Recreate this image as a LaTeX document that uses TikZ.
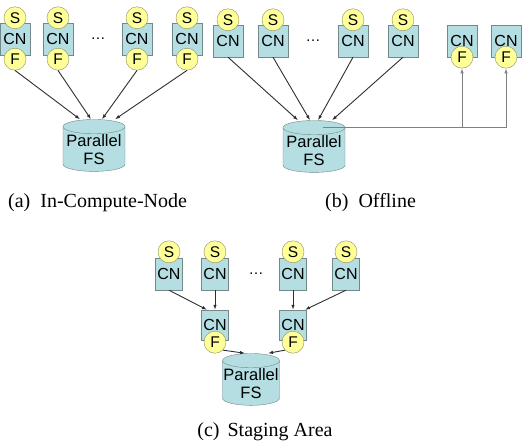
\documentclass[tikz,border=0pt]{standalone}
\usepackage{fontspec}
\setmainfont{Liberation Serif}
\setsansfont{Liberation Sans}
\usepackage{tikz}
\usetikzlibrary{shapes.geometric,arrows.meta}

\definecolor{cnfill}{HTML}{B4DEE2}
\definecolor{cnline}{HTML}{74888A}
\definecolor{bubfill}{HTML}{FFFF99}
\definecolor{bubline}{HTML}{8E8E5C}
\definecolor{linkc}{HTML}{2E2E2E}

\tikzset{
    cn/.style={draw=cnline, fill=cnfill, minimum width=30pt, minimum height=32pt, inner sep=0pt,
        font=\sffamily\fontsize{16}{16}\selectfont},
    bub/.style={draw=bubline, fill=bubfill, circle, minimum size=22pt, inner sep=0pt,
        font=\sffamily\fontsize{15.5}{15.5}\selectfont},
    pfs/.style={cylinder, shape border rotate=90, aspect=0.25, draw=cnline, fill=cnfill,
        minimum width=62pt, minimum height=50pt, inner sep=1pt, align=center,
        font=\sffamily\fontsize{16.5}{18}\selectfont},
    dots/.style={font=\sffamily\fontsize{15}{15}\selectfont},
    link/.style={draw=linkc, line width=0.9pt, -{Latex[length=5pt,width=3.5pt]}},
    subcap/.style={anchor=west, inner sep=0pt, font=\fontsize{20}{24}\selectfont}
}

\begin{document}
\begin{tikzpicture}[x=1pt, y=-1pt]
        \useasboundingbox (0,0) rectangle (524,447);

        % (a)
        \node[cn] (a1) at (15,39) {CN};
        \node[cn] (a2) at (58,39) {CN};
        \node[cn] (a3) at (137,39) {CN};
        \node[cn] (a4) at (187,39) {CN};
        \node[dots] (da) at (98,39) {\ldots};
        \node[bub] (sa1) at ([yshift=5pt]a1.north) {S};
        \node[bub] (sa2) at ([yshift=5pt]a2.north) {S};
        \node[bub] (sa3) at ([yshift=5pt]a3.north) {S};
        \node[bub] (sa4) at ([yshift=5pt]a4.north) {S};
        \node[bub] (fa1) at ([yshift=-4pt]a1.south) {F};
        \node[bub] (fa2) at ([yshift=-4pt]a2.south) {F};
        \node[bub] (fa3) at ([yshift=-4pt]a3.south) {F};
        \node[bub] (fa4) at ([yshift=-4pt]a4.south) {F};
        \node[pfs] (fsa) at (94,150) {Parallel\\FS};

        \draw[link] (fa1.south) -- ([xshift=-14pt]fsa.north);
        \draw[link] (fa2.south) -- ([xshift=-3pt]fsa.north);
        \draw[link] (fa3.south) -- ([xshift=8pt]fsa.north);
        \draw[link] (fa4.south) -- ([xshift=21pt]fsa.north);

        % (b)
        \node[cn] (b1) at (228,41) {CN};
        \node[cn] (b2) at (273,41) {CN};
        \node[cn] (b3) at (353,41) {CN};
        \node[cn] (b4) at (403,41) {CN};
        \node[dots] (db) at (313,41) {\ldots};
        \node[bub] (sb1) at ([yshift=5pt]b1.north) {S};
        \node[bub] (sb2) at ([yshift=5pt]b2.north) {S};
        \node[bub] (sb3) at ([yshift=5pt]b3.north) {S};
        \node[bub] (sb4) at ([yshift=5pt]b4.north) {S};
        \node[cn] (o1) at (462,41) {CN};
        \node[cn] (o2) at (506,41) {CN};
        \node[bub] (fo1) at (o1.south) {F};
        \node[bub] (fo2) at (o2.south) {F};
        \node[pfs] (fsb) at (314,151) {Parallel\\FS};

        \draw[link] (b1.south) -- ([xshift=-16pt]fsb.north);
        \draw[link] (b2.south) -- ([xshift=-4pt]fsb.north);
        \draw[link] (b3.south) -- ([xshift=4pt]fsb.north);
        \draw[link] (b4.south) -- ([xshift=18pt]fsb.north);

        \coordinate (jb) at ([xshift=9pt,yshift=-7pt]fsb.north);
        \draw[link, draw=gray] (jb) -| (fo2.south);
        \draw[link, draw=gray] (jb -| fo1.south) -- (fo1.south);

        % (c)
        \node[cn, minimum width=27pt] (c1) at (169,274) {CN};
        \node[cn, minimum width=27pt] (c2) at (215,274) {CN};
        \node[cn, minimum width=27pt] (c3) at (293,274) {CN};
        \node[cn, minimum width=27pt] (c4) at (346,274) {CN};
        \node[dots] (dc) at (256,274) {\ldots};
        \node[bub] (sc1) at ([yshift=6pt]c1.north) {S};
        \node[bub] (sc2) at ([yshift=6pt]c2.north) {S};
        \node[bub] (sc3) at ([yshift=6pt]c3.north) {S};
        \node[bub] (sc4) at ([yshift=6pt]c4.north) {S};
        \node[cn, minimum width=27pt, minimum height=30pt] (ca) at (215,325) {CN};
        \node[cn, minimum width=27pt, minimum height=30pt] (cb) at (293,325) {CN};
        \node[bub] (fca) at ([yshift=-2pt]ca.south) {F};
        \node[bub] (fcb) at ([yshift=-2pt]cb.south) {F};
        \node[pfs, minimum width=52pt, minimum height=48pt] (fsc) at (251,384) {Parallel\\FS};

        \draw[link] (c1.south) -- ([xshift=-8pt]ca.north);
        \draw[link] (c2.south) -- (ca.north);
        \draw[link] (c3.south) -- (cb.north);
        \draw[link] (c4.south) -- ([xshift=12pt]cb.north);
        \draw[link] (fca.south east) -- ([xshift=-6pt]fsc.north);
        \draw[link] (fcb.south west) -- ([xshift=17pt]fsc.north);

        % captions
        \node[subcap] (capa) at (8,203) {(a)\hspace{0.5em}In-Compute-Node};
        \node[subcap] (capb) at (325,203) {(b)\hspace{0.5em}Offline};
        \node[subcap, anchor=center] (capc) at (265,432) {(c)\hspace{0.4em}Staging Area};
    \end{tikzpicture}
\end{document}
